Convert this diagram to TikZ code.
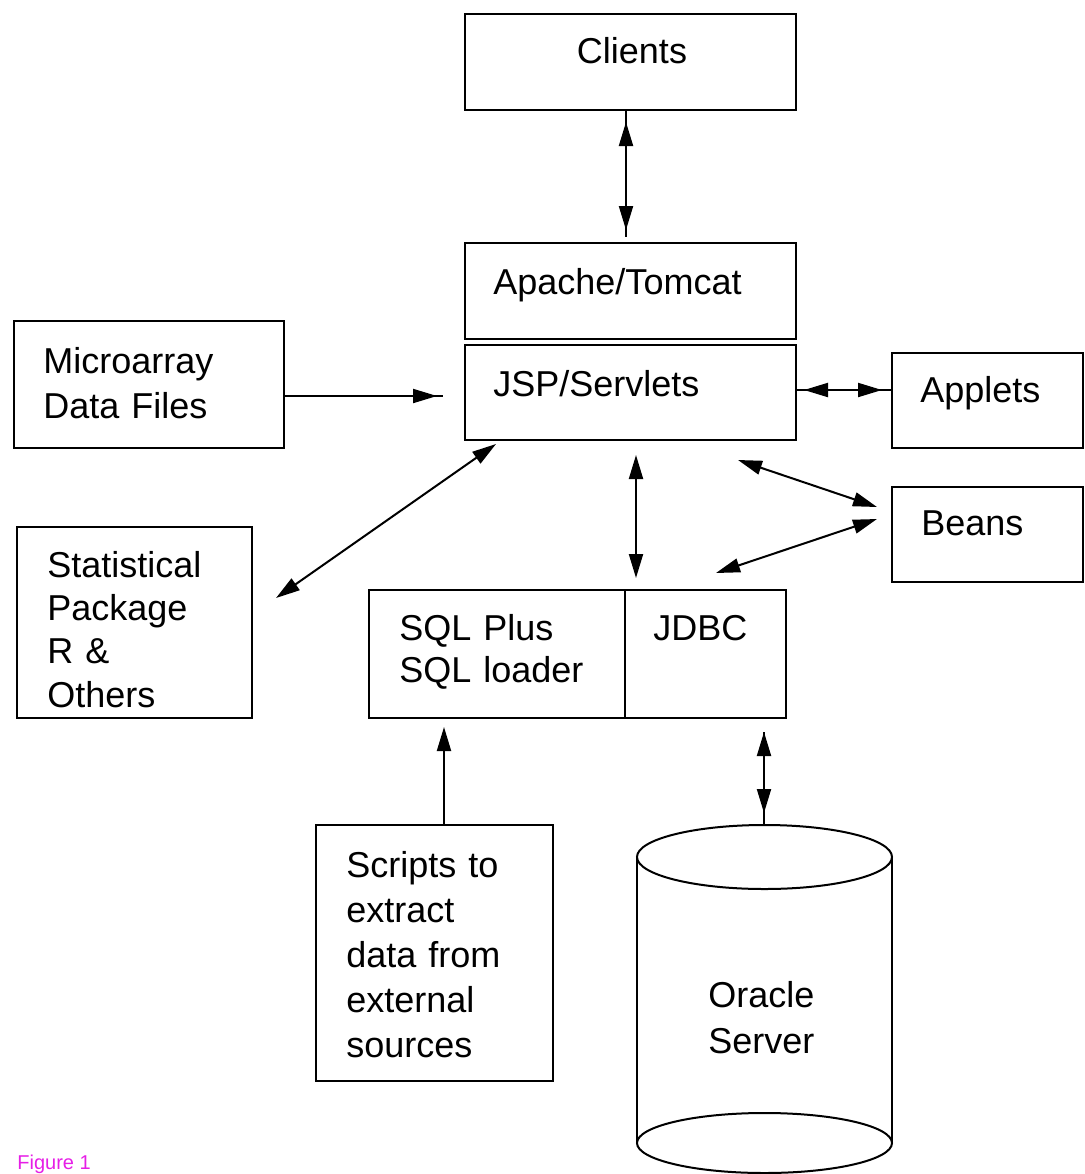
\documentclass[tikz,border=0pt]{standalone}
\usepackage{fontspec}
\setmainfont{Liberation Sans}
\usetikzlibrary{arrows.meta,calc}
\definecolor{figmag}{RGB}{230,30,230}
\begin{document}
\begin{tikzpicture}[x=0.5pt,y=-0.5pt,
  box/.style={draw,line width=1pt,inner sep=0pt},
  lbl/.style={anchor=base west,inner sep=0pt,font=\fontsize{18pt}{22.5pt}\selectfont},
  mlbl/.style={anchor=base west,inner sep=0pt,text width=#1,align=left,font=\fontsize{18pt}{22.5pt}\selectfont},
  ln/.style={line width=1pt},
  dbl/.style={line width=1pt,{Triangle[length=12pt,width=7pt]}-{Triangle[length=12pt,width=7pt]}},
  sgl/.style={line width=1pt,-{Triangle[length=12pt,width=7pt]}}]
\useasboundingbox (0,0) rectangle (1084,1174);
% boxes
\node[box,minimum width=165.5pt,minimum height=48pt] (clients) at (630.5,62) {};
\node[box,minimum width=165.5pt,minimum height=48pt] (apache) at (630.5,291) {};
\node[box,minimum width=165.5pt,minimum height=47.5pt] (jsp) at (630.5,392.5) {};
\node[box,minimum width=95.5pt,minimum height=47.5pt] (applets) at (987.5,400.5) {};
\node[box,minimum width=95.5pt,minimum height=47.5pt] (beans) at (987.5,534.5) {};
\node[box,minimum width=135pt,minimum height=63.5pt] (micro) at (149,384.5) {};
\node[box,minimum width=117.5pt,minimum height=95.5pt] (stat) at (134.5,622.5) {};
\node[box,minimum width=128pt,minimum height=64pt] (sql) at (497,654) {};
\node[box,minimum width=80.5pt,minimum height=64pt] (jdbc) at (705.5,654) {};
\node[box,minimum width=118.5pt,minimum height=128pt] (scripts) at (434.5,953) {};
% cylinder
\draw[ln] (637,857) -- (637,1143) (892,857) -- (892,1143);
\draw[ln] (764.5,857) ellipse [x radius=63.75pt, y radius=16pt];
\draw[ln] (764.5,1143) ellipse [x radius=63.75pt, y radius=15pt];
\coordinate (oracle) at (764,825);
% texts
\node[lbl,anchor=base] (tclients) at (632,63) {Clients};
\node[lbl] (tapache) at (493,294) {Apache/Tomcat};
\node[lbl] (tjsp) at (493,396) {JSP/Servlets};
\node[lbl] (tapplets) at (920,402) {Applets};
\node[lbl] (tbeans) at (921,535) {Beans};
\node[lbl] (tjdbc) at (653,640) {JDBC};
\node[mlbl=200pt] (tmicro) at (43,373) {Microarray\\Data Files};
\node[mlbl=200pt,font=\fontsize{18pt}{21.7pt}\selectfont] (tstat) at (47,577) {Statistical\\Package\\R \&\\Others};
\node[mlbl=200pt,font=\fontsize{18pt}{21pt}\selectfont] (tsql) at (399,640) {SQL Plus\\SQL loader};
\node[mlbl=200pt] (tscripts) at (346,877) {Scripts to\\extract\\data from\\external\\sources};
\node[mlbl=200pt,font=\fontsize{18pt}{23pt}\selectfont] (toracle) at (708,1007) {Oracle\\Server};
\node[anchor=base west,inner sep=0pt,font=\fontsize{10pt}{12pt}\selectfont,text=figmag] (fig) at (17,1169) {Figure 1};
% connector end points
\coordinate (c1a) at (626,110); \coordinate (c1b) at (626,237);
\coordinate (c2a) at (284,396); \coordinate (c2b) at (443,396);
\coordinate (c3a) at (796,390); \coordinate (c3b) at (892,390);
\coordinate (c4a) at (276,598); \coordinate (c4b) at (496,444);
\coordinate (c5a) at (636,455); \coordinate (c5b) at (636,578);
\coordinate (c6a) at (738,460); \coordinate (c6b) at (877,507);
\coordinate (c7a) at (877,519); \coordinate (c7b) at (716,573);
\coordinate (c8a) at (444,825); \coordinate (c8b) at (444,727);
\coordinate (c9a) at (764,732); \coordinate (c9b) at (764,825);
% connectors
\draw[ln] (c1a) -- (c1b);
\draw[dbl,shorten <=6pt,shorten >=3.5pt] (c1a) -- (c1b);
\draw[ln] (c2a) -- (c2b);
\draw[sgl,shorten >=3pt] (c2a) -- (c2b);
\draw[ln] (c3a) -- (c3b);
\draw[dbl,shorten <=4pt,shorten >=5pt] (c3a) -- (c3b);
\draw[dbl] (c4a) -- (c4b);
\draw[dbl] (c5a) -- (c5b);
\draw[dbl] (c6a) -- (c6b);
\draw[dbl] (c7a) -- (c7b);
\draw[sgl] (c8a) -- (c8b);
\draw[ln] (c9a) -- (c9b);
\draw[dbl,shorten >=6pt] (c9a) -- (c9b);
\end{tikzpicture}
\end{document}
